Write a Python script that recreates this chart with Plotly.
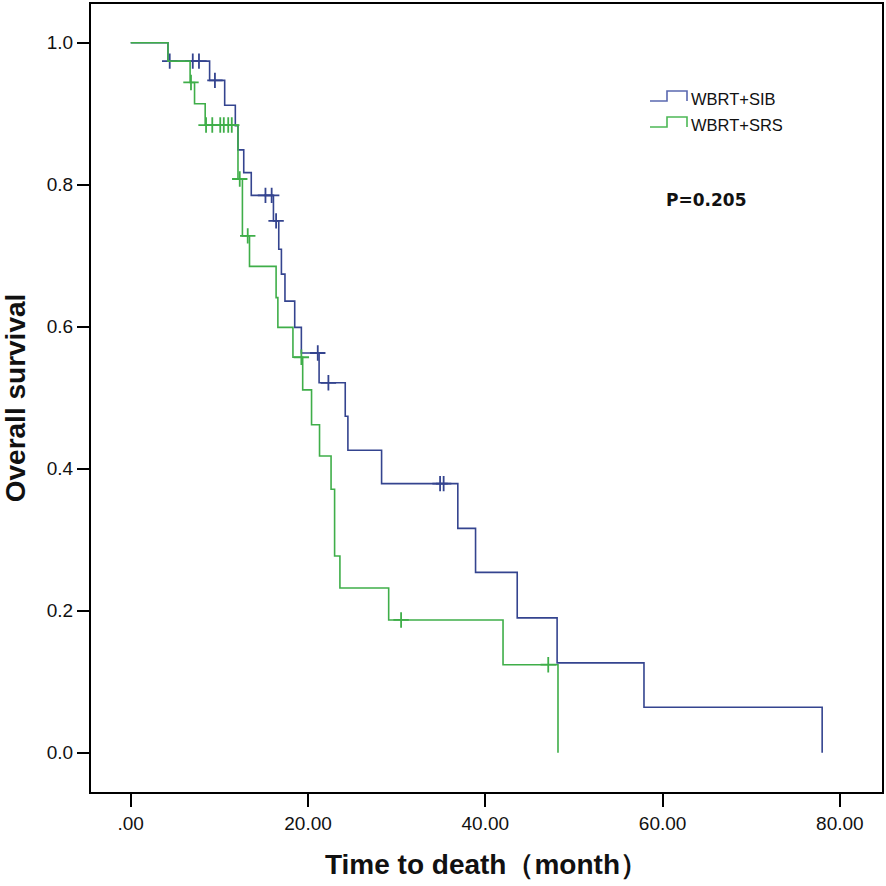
import numpy as np
import plotly.graph_objects as go

# WBRT+SIB (blue)
sib_times = [0, 4.2, 8.9, 10.6, 11.8, 12.1, 12.75, 13.6, 16.1, 16.7, 17.0, 17.4, 18.5,
             19.25, 21.25, 24.2, 24.5, 28.3, 36.9, 38.9, 43.6, 48.1, 57.9, 78.0]
sib_surv = [1.0, 0.974, 0.947, 0.912, 0.883, 0.849, 0.817, 0.785, 0.749, 0.709, 0.674, 0.636, 0.599,
            0.563, 0.521, 0.474, 0.426, 0.379, 0.316, 0.254, 0.190, 0.1265, 0.064, 0.0]
sib_censor = [4.4, 7.0, 7.7, 9.5, 15.2, 15.9, 16.4, 21.1, 22.3, 34.9, 35.3]

# WBRT+SRS (green)
srs_times = [0, 4.2, 6.7, 7.2, 8.4, 12.1, 12.6, 13.4, 16.4, 16.6, 18.3, 19.4, 20.4,
             21.3, 22.6, 23.0, 23.6, 29.1, 42.0, 48.2]
srs_surv = [1.0, 0.974, 0.944, 0.914, 0.884, 0.808, 0.728, 0.685, 0.641, 0.599, 0.557, 0.511, 0.462,
            0.418, 0.371, 0.277, 0.232, 0.187, 0.124, 0.0]
srs_censor = [6.8, 8.5, 9.2, 10.1, 10.5, 11.0, 11.4, 12.3, 13.2, 19.25, 30.5, 47.1]

series_names = ["WBRT+SIB", "WBRT+SRS"]
x_ticks = [0, 20, 40, 60, 80]
x_ticktext = [".00", "20.00", "40.00", "60.00", "80.00"]
y_ticks = [0.0, 0.2, 0.4, 0.6, 0.8, 1.0]
y_ticktext = ["0.0", "0.2", "0.4", "0.6", "0.8", "1.0"]

BLUE = "#34448f"
GREEN = "#3fae49"

W, H = 886, 886
ML, MR, MT, MB = 91, 4, 4, 94
PW, PH = W - ML - MR, H - MT - MB


def px(x):
    return (x - ML) / PW


def py(y):
    return (H - MB - y) / PH


def step_at(times, surv, t):
    idx = np.searchsorted(np.array(times), t, side="right") - 1
    return np.array(surv)[idx]


fig = go.Figure()
for name, times, surv, cens, col in [
    (series_names[0], sib_times, sib_surv, sib_censor, BLUE),
    (series_names[1], srs_times, srs_surv, srs_censor, GREEN),
]:
    fig.add_trace(go.Scatter(x=times, y=surv, mode="lines", line_shape="hv",
                             line=dict(color=col, width=1.6), name=name, showlegend=False))
    fig.add_trace(go.Scatter(x=cens, y=step_at(times, surv, cens), mode="markers",
                             marker=dict(symbol="cross-thin-open", size=11, color=col,
                                         line=dict(color=col, width=1.8)),
                             showlegend=False))

# custom legend (SPSS-style step icons)
legend_cols = ["#5a68b0", "#4cb856"]
for i, (name, col) in enumerate(zip(series_names, legend_cols)):
    dy = 26 * i
    pts = [(650, 101 + dy), (667, 101 + dy), (667, 91 + dy), (687, 91 + dy), (687, 101 + dy)]
    path = "M " + " L ".join(f"{px(a):.5f},{py(b):.5f}" for a, b in pts)
    fig.add_shape(type="path", path=path, xref="paper", yref="paper",
                  line=dict(color=col, width=1.6))
    fig.add_annotation(x=px(689), y=py(99 + dy), xref="paper", yref="paper", text=name,
                       showarrow=False, xanchor="left", yanchor="middle",
                       font=dict(family="Liberation Sans", size=16.5, color="#111"))

fig.add_annotation(x=px(664), y=py(200), xref="paper", yref="paper", text="<b>P=0.205</b>",
                   showarrow=False, xanchor="left", yanchor="middle",
                   font=dict(family="DejaVu Sans", size=17, color="#111"))

axis_common = dict(showline=True, linecolor="black", linewidth=2, mirror=True,
                   ticks="outside", tickcolor="black", tickwidth=2, showgrid=False,
                   zeroline=False, automargin=False,
                   tickfont=dict(family="Liberation Sans", size=19, color="#111"))

fig.update_layout(
    width=W, height=H,
    margin=dict(l=ML, r=MR, t=MT, b=MB),
    plot_bgcolor="white", paper_bgcolor="white",
    xaxis=dict(range=[-4.48, 84.75], tickvals=x_ticks, ticktext=x_ticktext, ticklen=13,
               title=dict(text="<b>Time to death（month）</b>", standoff=22,
                          font=dict(family="Liberation Sans", size=28, color="#111")),
               **axis_common),
    yaxis=dict(range=[-0.0553, 1.0545], tickvals=y_ticks, ticktext=y_ticktext, ticklen=12,
               title=dict(text="<b>Overall survival</b>", standoff=16,
                          font=dict(family="Liberation Sans", size=28, color="#111")),
               **axis_common),
)

fig.write_html("out.html", config={"displayModeBar": False},
               post_script="document.body.style.margin='0';document.body.style.overflow='hidden';")
